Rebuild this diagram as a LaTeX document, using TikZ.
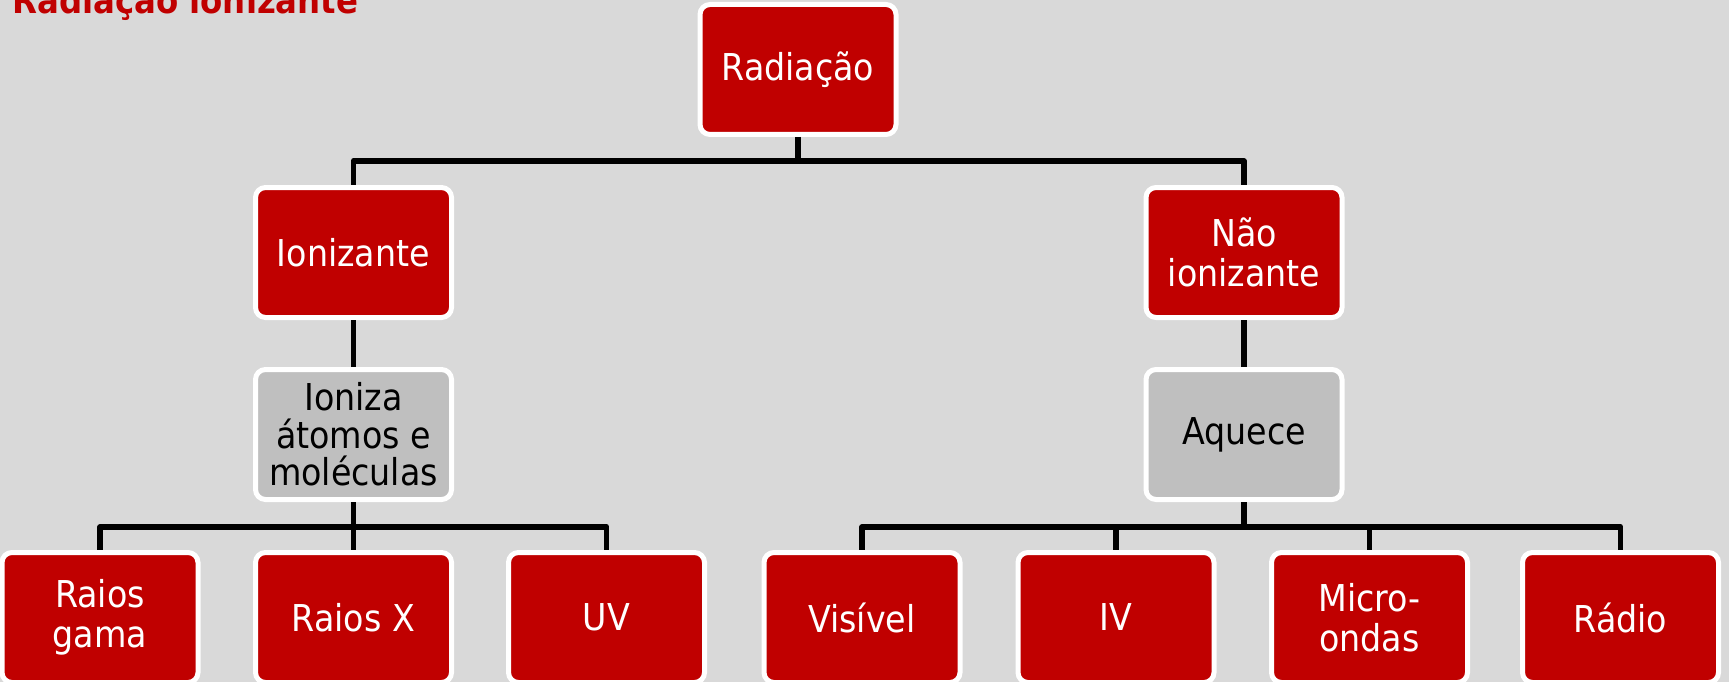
\documentclass[tikz,border=0pt]{standalone}
\usepackage{fontspec}
\setmainfont{DejaVu Sans Condensed}
\definecolor{bg}{HTML}{D9D9D9}
\definecolor{boxred}{HTML}{C00000}
\definecolor{boxgray}{HTML}{BFBFBF}
\begin{document}
\begin{tikzpicture}[x=1pt,y=-1pt,
  base/.style={draw=white, line width=5pt, rounded corners=10pt,
    minimum width=196pt, minimum height=130pt, inner sep=0pt, align=center,
    font=\fontsize{37}{40}\selectfont},
  redbox/.style={base, fill=boxred, text=white},
  graybox/.style={base, fill=boxgray, text=black},
  conn/.style={line width=5.7pt, black, line join=round}]
\fill[bg] (0,0) rectangle (1729,682);
\useasboundingbox (0,0) rectangle (1729,682);
\node[anchor=base west, text=boxred, font=\fontsize{36}{38}\selectfont\bfseries, inner sep=0pt] (title) at (12,14) {Radiação ionizante};

\coordinate (b1) at (0,161);
\coordinate (b2) at (0,527);

\node[redbox] (rad) at (798,69.5) {Radiação};
\node[redbox] (ion) at (353.5,252.5) {Ionizante};
\node[redbox] (nion) at (1244,252.5) {Não\\ionizante};
\node[graybox, font=\fontsize{37}{37.5}\selectfont] (ioniza) at (353.5,434.5) {Ioniza\\átomos e\\moléculas};
\node[graybox] (aquece) at (1244,434.5) {Aquece};

\node[redbox] (gama) at (100,617.5) {Raios\\gama};
\node[redbox] (raiosx) at (353.5,617.5) {Raios X};
\node[redbox] (uv) at (606.5,617.5) {UV};
\node[redbox] (vis) at (862,617.5) {Visível};
\node[redbox] (iv) at (1116,617.5) {IV};
\node[redbox] (micro) at (1369.5,617.5) {Micro-\\ondas};
\node[redbox] (radio) at (1620.5,617.5) {Rádio};

\draw[conn] (rad.south) -- (rad.south |- b1) -| (ion.north);
\draw[conn] (rad.south |- b1) -| (nion.north);
\draw[conn] (ion.south) -- (ioniza.north);
\draw[conn] (nion.south) -- (aquece.north);
\draw[conn] (ioniza.south) -- (ioniza.south |- b2) -| (gama.north);
\draw[conn] (ioniza.south |- b2) -- (raiosx.north);
\draw[conn] (ioniza.south |- b2) -| (uv.north);
\draw[conn] (aquece.south) -- (aquece.south |- b2) -| (vis.north);
\draw[conn] (aquece.south |- b2) -| (iv.north);
\draw[conn] (aquece.south |- b2) -| (micro.north);
\draw[conn] (aquece.south |- b2) -| (radio.north);
\end{tikzpicture}
\end{document}
